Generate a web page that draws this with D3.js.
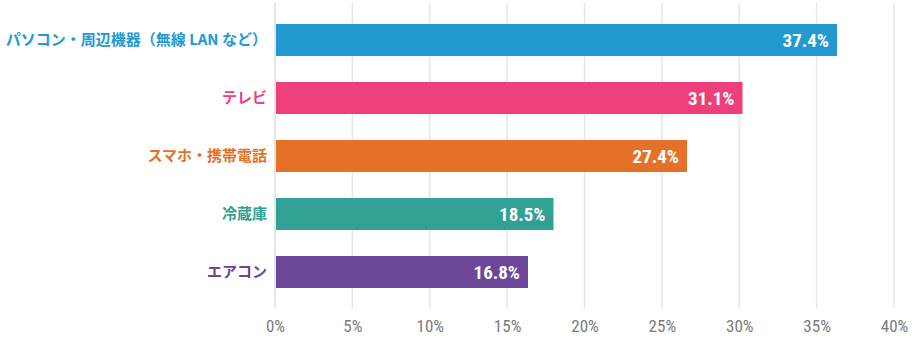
<!DOCTYPE html>
<html><head><meta charset="utf-8">
<script src="https://cdn.jsdelivr.net/npm/d3@7"></script>
<style>
body{margin:0;background:#fff;}
svg{display:block;}
</style></head>
<body>
<script>
const categories = ["パソコン・周辺機器（無線 LAN など）","テレビ","スマホ・携帯電話","冷蔵庫","エアコン"];
const values = [37.4, 31.1, 27.4, 18.5, 16.8];
const colors = ["#2399d1","#ec3f7b","#e57129","#31a095","#6b4699"];
const tickValues = [0,5,10,15,20,25,30,35,40];
const tickLabels = ["0%","5%","10%","15%","20%","25%","30%","35%","40%"];

const W = 912, H = 338;
const svg = d3.select("body").append("svg").attr("width", W).attr("height", H);

const x = d3.scaleLinear().domain([0, 40]).range([275, 894]);
const xBar = d3.scaleLinear().domain([0, 41.2]).range([276, 894]);
const y = d3.scaleBand().domain(categories).range([11, 301]).paddingInner(0.448).paddingOuter(0.224);

// gridlines
svg.append("g").selectAll("line").data(tickValues).join("line")
  .attr("x1", d => x(d)).attr("x2", d => x(d))
  .attr("y1", 3).attr("y2", 308)
  .attr("stroke", "#e6e6e6").attr("stroke-width", d => d === 0 ? 2 : 1.5);

// x axis labels
const axis = d3.axisBottom(x).tickValues(tickValues).tickSize(0).tickPadding(0)
  .tickFormat((d, i) => tickLabels[i]);
const ag = svg.append("g").attr("transform", "translate(0,332)").call(axis);
ag.select(".domain").remove();
ag.selectAll("text").attr("dy", 0)
  .attr("fill", "#7a7a7a").style("font-family", "'Roboto Condensed','DejaVu Sans Condensed','Liberation Sans Narrow',sans-serif")
  .style("font-size", "17px").style("font-stretch", "condensed");

// bars
svg.append("g").selectAll("rect").data(values).join("rect")
  .attr("x", xBar(0)).attr("y", (d, i) => y(categories[i]))
  .attr("width", d => xBar(d) - xBar(0)).attr("height", y.bandwidth())
  .attr("fill", (d, i) => colors[i]);

// value labels
svg.append("g").selectAll("text").data(values).join("text")
  .attr("x", d => xBar(d) - 8).attr("y", (d, i) => y(categories[i]) + y.bandwidth() / 2)
  .attr("dy", "0.36em").attr("text-anchor", "end").attr("fill", "#fff")
  .style("font-family", "'Roboto Condensed','DejaVu Sans Condensed','Liberation Sans Narrow',sans-serif")
  .style("font-size", "19px").style("font-weight", "bold").style("font-stretch", "condensed")
  .text(d => d.toFixed(1) + "%");

// category labels
svg.append("g").selectAll("text").data(categories).join("text")
  .attr("x", 267).attr("y", d => y(d) + y.bandwidth() / 2)
  .attr("dy", "0.36em").attr("text-anchor", "end")
  .attr("fill", (d, i) => colors[i])
  .style("font-family", "'Noto Sans CJK JP','Noto Sans',sans-serif")
  .style("font-size", "15px").style("font-weight", "bold")
  .text(d => d);
</script>
</body></html>
